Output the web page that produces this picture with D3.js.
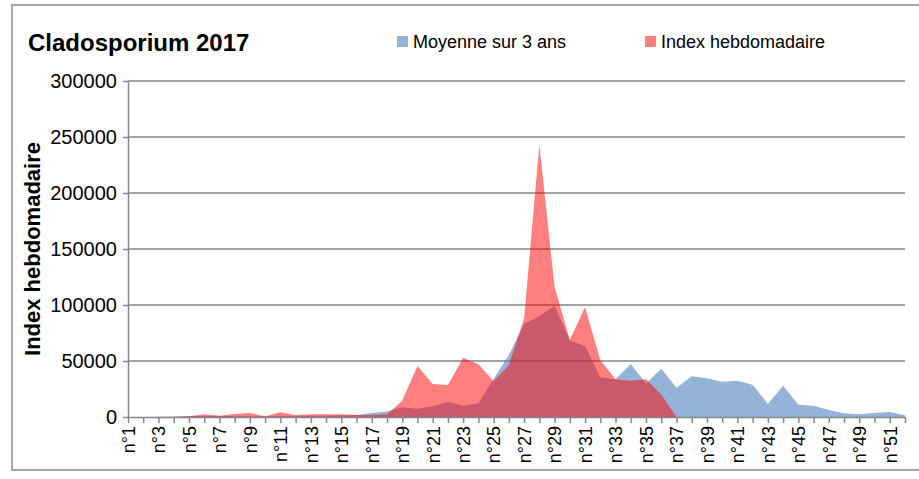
<!DOCTYPE html>
<html>
<head>
<meta charset="utf-8">
<script src="https://cdn.jsdelivr.net/npm/d3@7"></script>
<style>
  body { margin: 0; background: #fff; }
  #chart text { font-family: "Liberation Sans", Arial, sans-serif; fill: #000; }
</style>
</head>
<body>
<div id="chart"></div>
<script>

// categories: week numbers
var weeks = ["n°1","n°2","n°3","n°4","n°5","n°6","n°7","n°8","n°9","n°10",
    "n°11","n°12","n°13","n°14","n°15","n°16","n°17","n°18","n°19","n°20",
    "n°21","n°22","n°23","n°24","n°25","n°26","n°27","n°28","n°29","n°30",
    "n°31","n°32","n°33","n°34","n°35","n°36","n°37","n°38","n°39","n°40",
    "n°41","n°42","n°43","n°44","n°45","n°46","n°47","n°48","n°49","n°50",
    "n°51","n°52"];

// Moyenne sur 3 ans
var moyenne = [0, 0, 200, 400, 800, 1000, 800, 800, 600, 600,
    800, 1000, 1200, 1200, 1400, 1800, 3600, 5000, 8600, 7400,
    9500, 13700, 10100, 12200, 34000, 55300, 83000, 90200, 99100, 68500,
    63400, 35400, 33600, 47300, 30000, 43000, 26200, 36300, 34500, 31500,
    32400, 28900, 11600, 28000, 11000, 10100, 6250, 3300, 2400, 3600,
    4500, 1500];

// Index hebdomadaire 2017
var indexHebdo = [0, 0, 0, 0, 600, 2400, 1200, 2700, 3600, 600,
    4200, 1800, 2400, 2400, 2400, 1800, 1800, 2400, 14600, 45500,
    29500, 28500, 53000, 47000, 32000, 46400, 88000, 243000, 116400, 68750,
    97900, 50900, 33600, 32400, 33600, 20000, 0, 0, 0, 0,
    0, 0, 0, 0, 0, 0, 0, 0, 0, 0,
    0, 0];

var yTicks = [0, 50000, 100000, 150000, 200000, 250000, 300000];

var title = "Cladosporium 2017",
    yTitle = "Index hebdomadaire",
    seriesNames = ["Moyenne sur 3 ans", "Index hebdomadaire"];

var width = 919,
    height = 479,
    plot = {left: 128, right: 905, top: 81, bottom: 417},
    gridColor = "#868686";

var svg = d3.select("#chart").append("svg")
    .attr("width", width)
    .attr("height", height);

// outer frame
svg.append("rect")
    .attr("x", 12)
    .attr("y", 5)
    .attr("width", 930)
    .attr("height", 465)
    .attr("fill", "#fff")
    .attr("stroke", "#a6a6a6")
    .attr("stroke-width", 2);

var x = d3.scalePoint().domain(weeks).range([plot.left, plot.right]);
var y = d3.scaleLinear().domain([0, 300000]).range([plot.bottom, plot.top]);

// gridlines
svg.append("g").selectAll("line")
    .data(yTicks.slice(1)).enter()
    .append("line")
    .attr("x1", plot.left)
    .attr("x2", plot.right)
    .attr("y1", function(d) { return y(d); })
    .attr("y2", function(d) { return y(d); })
    .attr("stroke", gridColor)
    .attr("stroke-width", 1.5);

var area = function(values) {
    return d3.area()
        .x(function(d, i) { return x(weeks[i]); })
        .y0(y(0))
        .y1(function(d) { return y(d); })
        .curve(d3.curveLinear)(values);
};

svg.append("path")
    .attr("d", area(moyenne))
    .attr("fill", "#4f81bd")
    .attr("fill-opacity", 0.6);

svg.append("path")
    .attr("d", area(indexHebdo))
    .attr("fill", "#ff0000")
    .attr("fill-opacity", 0.5);

// y axis
var yAxis = svg.append("g")
    .attr("transform", "translate(" + plot.left + ",0)")
    .call(d3.axisLeft(y).tickValues(yTicks).tickSize(5).tickSizeOuter(0).tickPadding(6).tickFormat(d3.format("d")));
yAxis.selectAll("text").style("font-size", "20px");

// x axis
var xAxis = svg.append("g")
    .attr("transform", "translate(0," + plot.bottom + ")")
    .call(d3.axisBottom(x).tickSize(6).tickSizeOuter(0)
        .tickFormat(function(d, i) { return i % 2 === 0 ? d : ""; }));
xAxis.selectAll("text")
    .style("font-size", "18px")
    .attr("text-anchor", "end")
    .attr("transform", "rotate(-90)")
    .attr("x", -9)
    .attr("y", 0)
    .attr("dy", "0.35em");

svg.selectAll(".domain, .tick line")
    .attr("stroke", gridColor)
    .attr("stroke-width", 1.5);

// titles
svg.append("text")
    .attr("x", 28)
    .attr("y", 51)
    .style("font-size", "24px")
    .style("font-weight", "bold")
    .text(title);

svg.append("text")
    .attr("transform", "translate(40," + ((plot.top + plot.bottom) / 2) + ") rotate(-90)")
    .attr("text-anchor", "middle")
    .style("font-size", "22px")
    .style("font-weight", "bold")
    .text(yTitle);

// legend
var legend = svg.append("g").selectAll("g")
    .data(seriesNames).enter()
    .append("g")
    .attr("transform", function(d, i) { return "translate(" + [397, 645][i] + ",0)"; });
legend.append("rect")
    .attr("y", 36)
    .attr("width", 11)
    .attr("height", 11)
    .attr("fill", function(d, i) { return ["#95b3d7", "#ff8080"][i]; });
legend.append("text")
    .attr("x", 16)
    .attr("y", 48)
    .style("font-size", "18px")
    .text(function(d) { return d; });

</script>
</body>
</html>
